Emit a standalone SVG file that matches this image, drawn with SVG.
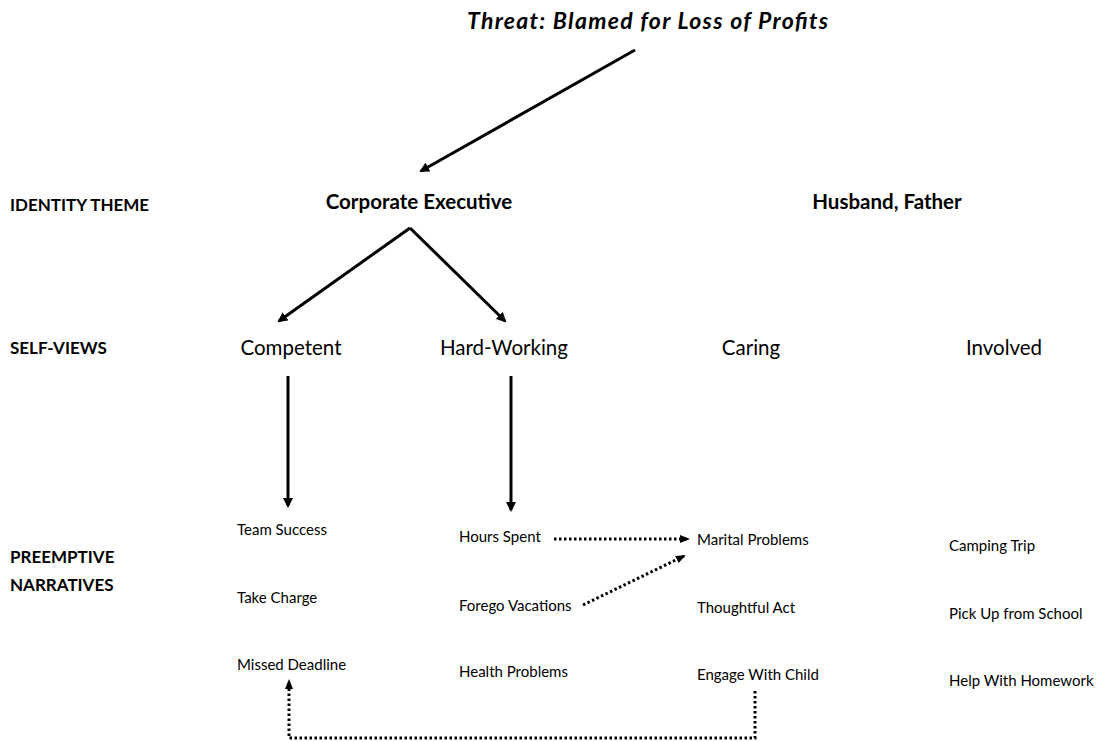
<svg xmlns="http://www.w3.org/2000/svg" width="1098" height="742" viewBox="0 0 1098 742">
<style>
text{font-family:Lato,"Open Sans","Liberation Sans",sans-serif;fill:#000}
.hdr{font-size:17px;font-weight:bold}
.theme{font-size:20.5px;font-weight:bold;text-anchor:middle}
.view{font-size:20.5px;text-anchor:middle}
.nar{font-size:15px}
.solid{stroke:#000;stroke-width:3;fill:none}
.dot{stroke:#000;stroke-width:3;fill:none;stroke-dasharray:2.5 2.5}
</style>
<defs>
<marker id="ah" markerWidth="10" markerHeight="10" refX="8" refY="5" orient="auto" markerUnits="userSpaceOnUse"><path d="M0,0 L10,5 L0,10 z" fill="#000"/></marker>
<marker id="ahs" markerWidth="10" markerHeight="10" refX="8" refY="5" orient="auto" markerUnits="userSpaceOnUse"><path d="M0,1 L10,5 L0,9 z" fill="#000"/></marker>
</defs>
<rect width="1098" height="742" fill="#fff"/>
<g id="threat"><text x="467" y="29" textLength="361" style="font-size:23px;font-weight:bold;font-style:italic">Threat: Blamed for Loss of Profits</text></g>
<g id="labels">
<text class="hdr" x="10" y="211">IDENTITY THEME</text>
<text class="hdr" x="10" y="354">SELF-VIEWS</text>
<text class="hdr" x="10" y="563">PREEMPTIVE</text>
<text class="hdr" x="10" y="591">NARRATIVES</text>
</g>
<g id="corporate-executive"><text class="theme" x="419" y="209">Corporate Executive</text></g>
<g id="husband-father"><text class="theme" x="887" y="209">Husband, Father</text></g>
<g id="competent"><text class="view" x="291" y="355">Competent</text></g>
<g id="hard-working"><text class="view" x="504" y="355">Hard-Working</text></g>
<g id="caring"><text class="view" x="751" y="355">Caring</text></g>
<g id="involved"><text class="view" x="1004" y="355">Involved</text></g>
<g id="team-success"><text class="nar" x="237" y="535">Team Success</text></g>
<g id="take-charge"><text class="nar" x="237" y="603">Take Charge</text></g>
<g id="missed-deadline"><text class="nar" x="237" y="670">Missed Deadline</text></g>
<g id="hours-spent"><text class="nar" x="459" y="542">Hours Spent</text></g>
<g id="forego-vacations"><text class="nar" x="459" y="611">Forego Vacations</text></g>
<g id="health-problems"><text class="nar" x="459" y="677">Health Problems</text></g>
<g id="marital-problems"><text class="nar" x="697" y="545">Marital Problems</text></g>
<g id="thoughtful-act"><text class="nar" x="697" y="613">Thoughtful Act</text></g>
<g id="engage-with-child"><text class="nar" x="697" y="680">Engage With Child</text></g>
<g id="camping-trip"><text class="nar" x="949" y="551">Camping Trip</text></g>
<g id="pick-up"><text class="nar" x="949" y="619">Pick Up from School</text></g>
<g id="homework"><text class="nar" x="949" y="686">Help With Homework</text></g>
<g id="connectors">
<line class="solid" x1="635" y1="50" x2="421" y2="171" marker-end="url(#ah)"/>
<line class="solid" x1="410" y1="228" x2="279" y2="321" marker-end="url(#ah)"/>
<line class="solid" x1="410" y1="228" x2="505" y2="321" marker-end="url(#ah)"/>
<line class="solid" x1="288" y1="376" x2="288" y2="506" marker-end="url(#ah)"/>
<line class="solid" x1="511" y1="376" x2="511" y2="510" marker-end="url(#ah)"/>
<line class="dot" x1="554" y1="539" x2="688" y2="539" marker-end="url(#ahs)"/>
<line class="dot" x1="583" y1="605" x2="684" y2="556" marker-end="url(#ahs)"/>
<polyline class="dot" points="755,691 755,738 289,738 289,681" marker-end="url(#ahs)"/>
</g>
</svg>
